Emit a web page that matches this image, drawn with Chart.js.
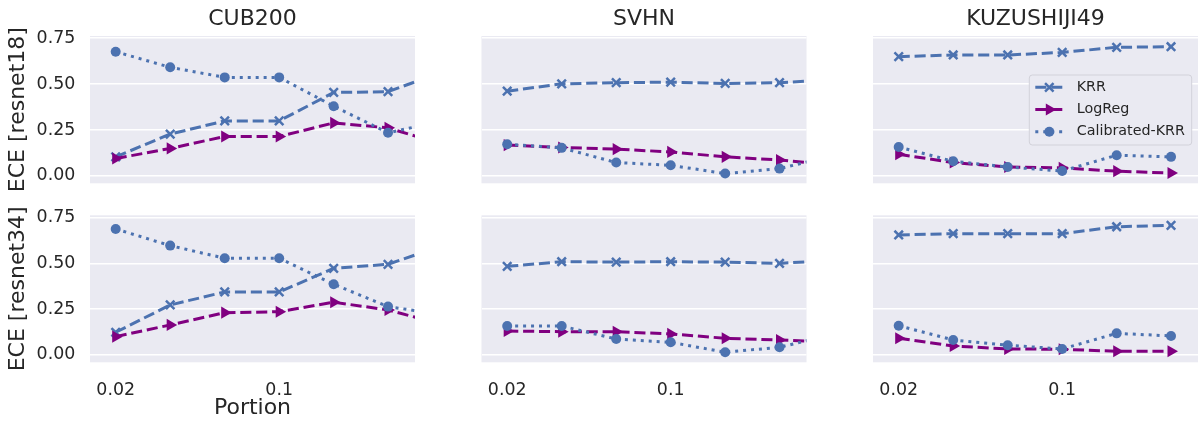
<!DOCTYPE html>
<html>
<head>
<meta charset="utf-8">
<title>ECE vs portion</title>
<script src="https://cdn.jsdelivr.net/npm/chart.js"></script>
<style>
  html, body { margin: 0; padding: 0; background: #ffffff; }
  #wrap { position: relative; width: 1198px; height: 423px; overflow: hidden; }
  #wrap canvas { position: absolute; }
</style>
</head>
<body>
<div id="wrap"></div>
<script>
// ============================================================
// Data
// ============================================================
const portions = [0.02, 0.0342, 0.0585, 0.1, 0.171, 0.292, 0.5];
const xTicks = [0.02, 0.1];
const yTicks = [0, 0.25, 0.5, 0.75];

const datasetNames = ["CUB200", "SVHN", "KUZUSHIJI49"];
const backbones = ["resnet18", "resnet34"];
const methods = ["KRR", "LogReg", "Calibrated-KRR"];

// ECE with resnet18 features
const cubR18Krr     = [0.104, 0.228, 0.300, 0.300, 0.455, 0.459, 0.567];
const cubR18LogReg  = [0.095, 0.150, 0.215, 0.215, 0.289, 0.262, 0.172];
const cubR18Calib   = [0.677, 0.592, 0.537, 0.537, 0.380, 0.235, 0.300];
const svhnR18Krr    = [0.462, 0.502, 0.508, 0.511, 0.504, 0.508, 0.526];
const svhnR18LogReg = [0.168, 0.155, 0.146, 0.131, 0.104, 0.087, 0.059];
const svhnR18Calib  = [0.173, 0.153, 0.073, 0.058, 0.013, 0.040, 0.112];
const kuzR18Krr     = [0.650, 0.659, 0.659, 0.673, 0.701, 0.704];
const kuzR18LogReg  = [0.118, 0.073, 0.049, 0.044, 0.026, 0.016];
const kuzR18Calib   = [0.158, 0.080, 0.049, 0.027, 0.113, 0.104];

// ECE with resnet34 features
const cubR34Krr     = [0.124, 0.273, 0.344, 0.344, 0.473, 0.495, 0.597];
const cubR34LogReg  = [0.100, 0.164, 0.231, 0.236, 0.288, 0.246, 0.166];
const cubR34Calib   = [0.688, 0.597, 0.528, 0.528, 0.386, 0.264, 0.220];
const svhnR34Krr    = [0.484, 0.509, 0.507, 0.509, 0.507, 0.500, 0.518];
const svhnR34LogReg = [0.131, 0.127, 0.127, 0.115, 0.091, 0.082, 0.070];
const svhnR34Calib  = [0.158, 0.158, 0.087, 0.069, 0.015, 0.042, 0.114];
const kuzR34Krr     = [0.655, 0.662, 0.662, 0.662, 0.700, 0.708];
const kuzR34LogReg  = [0.091, 0.049, 0.033, 0.031, 0.020, 0.020];
const kuzR34Calib   = [0.160, 0.082, 0.053, 0.033, 0.118, 0.104];

// rows = backbone, cols = dataset, inner = methods order
const panelValues = [
  [
    [cubR18Krr, cubR18LogReg, cubR18Calib],
    [svhnR18Krr, svhnR18LogReg, svhnR18Calib],
    [kuzR18Krr, kuzR18LogReg, kuzR18Calib],
  ],
  [
    [cubR34Krr, cubR34LogReg, cubR34Calib],
    [svhnR34Krr, svhnR34LogReg, svhnR34Calib],
    [kuzR34Krr, kuzR34LogReg, kuzR34Calib],
  ],
];

// ============================================================
// Style
// ============================================================
const FONT = "'DejaVu Sans', sans-serif";
const INK = "#262626";
const BLUE = "#4C72B0";
const PURPLE = "#800080";
const FACE = "#EAEAF2";

const X_MIN = 0.01553, X_MAX = 0.3808;
const Y_MIN = -0.04, Y_MAX = 0.7625;

const lineStyles = [
  { color: BLUE,   dash: [11.1, 4.8], point: "crossRot", radius: 6, pointBorder: 2.5, rotation: 0 },
  { color: PURPLE, dash: [11.1, 4.8], point: "triangle", radius: 7, pointBorder: 0,   rotation: 90 },
  { color: BLUE,   dash: [3, 4.95],   point: "circle",   radius: 5, pointBorder: 0,   rotation: 0 },
];

// canvas boxes, and the plot rectangle each one should end up with
const cols = [
  { left: 0,   width: 420, plotLeft: 90,    plotRight: 415 },
  { left: 440, width: 372, plotLeft: 481.5, plotRight: 806.5 },
  { left: 830, width: 368, plotLeft: 873,   plotRight: 1198 },
];
const rows = [
  { top: 0,   height: 190, plotTop: 36,    plotBottom: 183.3 },
  { top: 195, height: 228, plotTop: 215.3, plotBottom: 362.3 },
];
const Y_AXIS_W = 90;
const X_AXIS_H = 60.7;

// ============================================================
// Plugins
// ============================================================
const plotFace = {
  id: "plotFace",
  beforeDraw(chart) {
    const { ctx, chartArea: a } = chart;
    ctx.save();
    ctx.fillStyle = FACE;
    ctx.fillRect(a.left, a.top, a.right - a.left, a.bottom - a.top);
    ctx.restore();
  }
};

const panelTitle = {
  id: "panelTitle",
  afterDraw(chart, args, opts) {
    if (!opts.text) return;
    const { ctx, chartArea: a } = chart;
    ctx.save();
    ctx.font = `22px ${FONT}`;
    ctx.fillStyle = INK;
    ctx.textAlign = "center";
    ctx.textBaseline = "middle";
    ctx.fillText(opts.text, (a.left + a.right) / 2, a.top - 16.4);
    ctx.restore();
  }
};

function legendMarker(ctx, s, x, y) {
  const opts = { pointStyle: s.point, radius: s.radius, rotation: s.rotation, borderWidth: s.pointBorder };
  if (Chart.helpers && Chart.helpers.drawPoint) {
    Chart.helpers.drawPoint(ctx, opts, x, y);
    return;
  }
  ctx.beginPath();
  ctx.arc(x, y, s.radius, 0, Math.PI * 2);
  ctx.fill();
}

const methodLegend = {
  id: "methodLegend",
  afterDatasetsDraw(chart, args, opts) {
    if (!opts.show) return;
    const { ctx, chartArea: a } = chart;
    const box = { x: a.right - 168.7, y: a.top + 39, w: 162.4, h: 70 };

    ctx.save();
    ctx.beginPath();
    ctx.roundRect(box.x, box.y, box.w, box.h, 3);
    ctx.fillStyle = FACE;
    ctx.fill();
    ctx.strokeStyle = "#D2D2DA";
    ctx.lineWidth = 1;
    ctx.stroke();

    methods.forEach((name, i) => {
      const s = lineStyles[i];
      const y = box.y + 12.3 + i * 22.2;
      const x0 = box.x + 6, x1 = box.x + 34, xm = box.x + 20;

      ctx.strokeStyle = s.color;
      ctx.lineWidth = 3;
      ctx.lineCap = "butt";
      ctx.setLineDash(s.dash);
      ctx.beginPath();
      ctx.moveTo(x0, y);
      ctx.lineTo(x1, y);
      ctx.stroke();
      ctx.setLineDash([]);

      ctx.fillStyle = s.color;
      ctx.lineWidth = s.pointBorder;
      legendMarker(ctx, s, xm, y);

      ctx.fillStyle = INK;
      ctx.font = `14.3px ${FONT}`;
      ctx.textAlign = "left";
      ctx.textBaseline = "middle";
      ctx.fillText(name, box.x + 47.4, y);
    });
    ctx.restore();
  }
};

// ============================================================
// Panels
// ============================================================
const $ = (id) => document.getElementById(id);
const seriesFor = (values) => values.map((v, i) => ({ x: portions[i], y: v }));

function makePanel(r, c) {
  const col = cols[c], row = rows[r];
  const canvas = document.createElement("canvas");
  canvas.width = col.width;
  canvas.height = row.height;
  canvas.style.left = `${col.left}px`;
  canvas.style.top = `${row.top}px`;
  canvas.style.width = `${col.width}px`;
  canvas.style.height = `${row.height}px`;
  $("wrap").appendChild(canvas);

  const yW = c === 0 ? Y_AXIS_W : 0;
  const xH = r === 1 ? X_AXIS_H : 0;

  const datasets = panelValues[r][c].map((vals, i) => {
    const s = lineStyles[i];
    return {
      label: methods[i],
      data: seriesFor(vals),
      borderColor: s.color,
      borderWidth: 3,
      borderDash: s.dash,
      borderCapStyle: "butt",
      pointStyle: s.point,
      pointRadius: s.radius,
      pointRotation: s.rotation,
      pointBackgroundColor: s.color,
      pointBorderColor: s.color,
      pointBorderWidth: s.pointBorder,
      fill: false,
      tension: 0,
      clip: 0,
      order: 3 - i,
    };
  });

  return new Chart(canvas, {
    type: "line",
    data: { datasets },
    plugins: [plotFace, panelTitle, methodLegend],
    options: {
      responsive: false,
      animation: false,
      devicePixelRatio: 1,
      events: [],
      layout: {
        autoPadding: false,
        padding: {
          left: col.plotLeft - col.left - yW,
          right: col.left + col.width - col.plotRight,
          top: row.plotTop - row.top,
          bottom: row.top + row.height - row.plotBottom - xH,
        }
      },
      plugins: {
        legend: { display: false },
        tooltip: { enabled: false },
        panelTitle: { text: r === 0 ? datasetNames[c] : "" },
        methodLegend: { show: r === 0 && c === 2 },
      },
      scales: {
        x: {
          type: "logarithmic",
          min: X_MIN,
          max: X_MAX,
          afterBuildTicks: (s) => { s.ticks = xTicks.map(v => ({ value: v })); },
          afterFit: (s) => { s.height = xH; s.paddingLeft = 0; s.paddingRight = 0; },
          grid: { display: false },
          border: { display: false },
          ticks: {
            display: r === 1,
            autoSkip: false,
            maxRotation: 0,
            padding: 10.2,
            color: INK,
            font: { family: FONT, size: 17.4 },
            callback: (v) => String(v),
          },
          title: {
            display: r === 1 && c === 0,
            text: "Portion",
            color: INK,
            font: { family: FONT, size: 22 },
            padding: { top: 0, bottom: 1.1 },
          },
        },
        y: {
          min: Y_MIN,
          max: Y_MAX,
          afterBuildTicks: (s) => { s.ticks = yTicks.map(v => ({ value: v })); },
          afterFit: (s) => { s.width = yW; s.paddingTop = 0; s.paddingBottom = 0; },
          grid: { color: "#ffffff", lineWidth: 1.6, drawTicks: false },
          border: { display: false },
          ticks: {
            display: c === 0,
            padding: 14.7,
            color: INK,
            font: { family: FONT, size: 17.4 },
            callback: (v) => Number(v).toFixed(2),
          },
          title: {
            display: c === 0,
            text: `ECE [${backbones[r]}]`,
            color: INK,
            font: { family: FONT, size: 22 },
            padding: { top: 4.7, bottom: 0 },
          },
        },
      },
    },
  });
}

for (let r = 0; r < rows.length; r++) {
  for (let c = 0; c < cols.length; c++) makePanel(r, c);
}
</script>
</body>
</html>
